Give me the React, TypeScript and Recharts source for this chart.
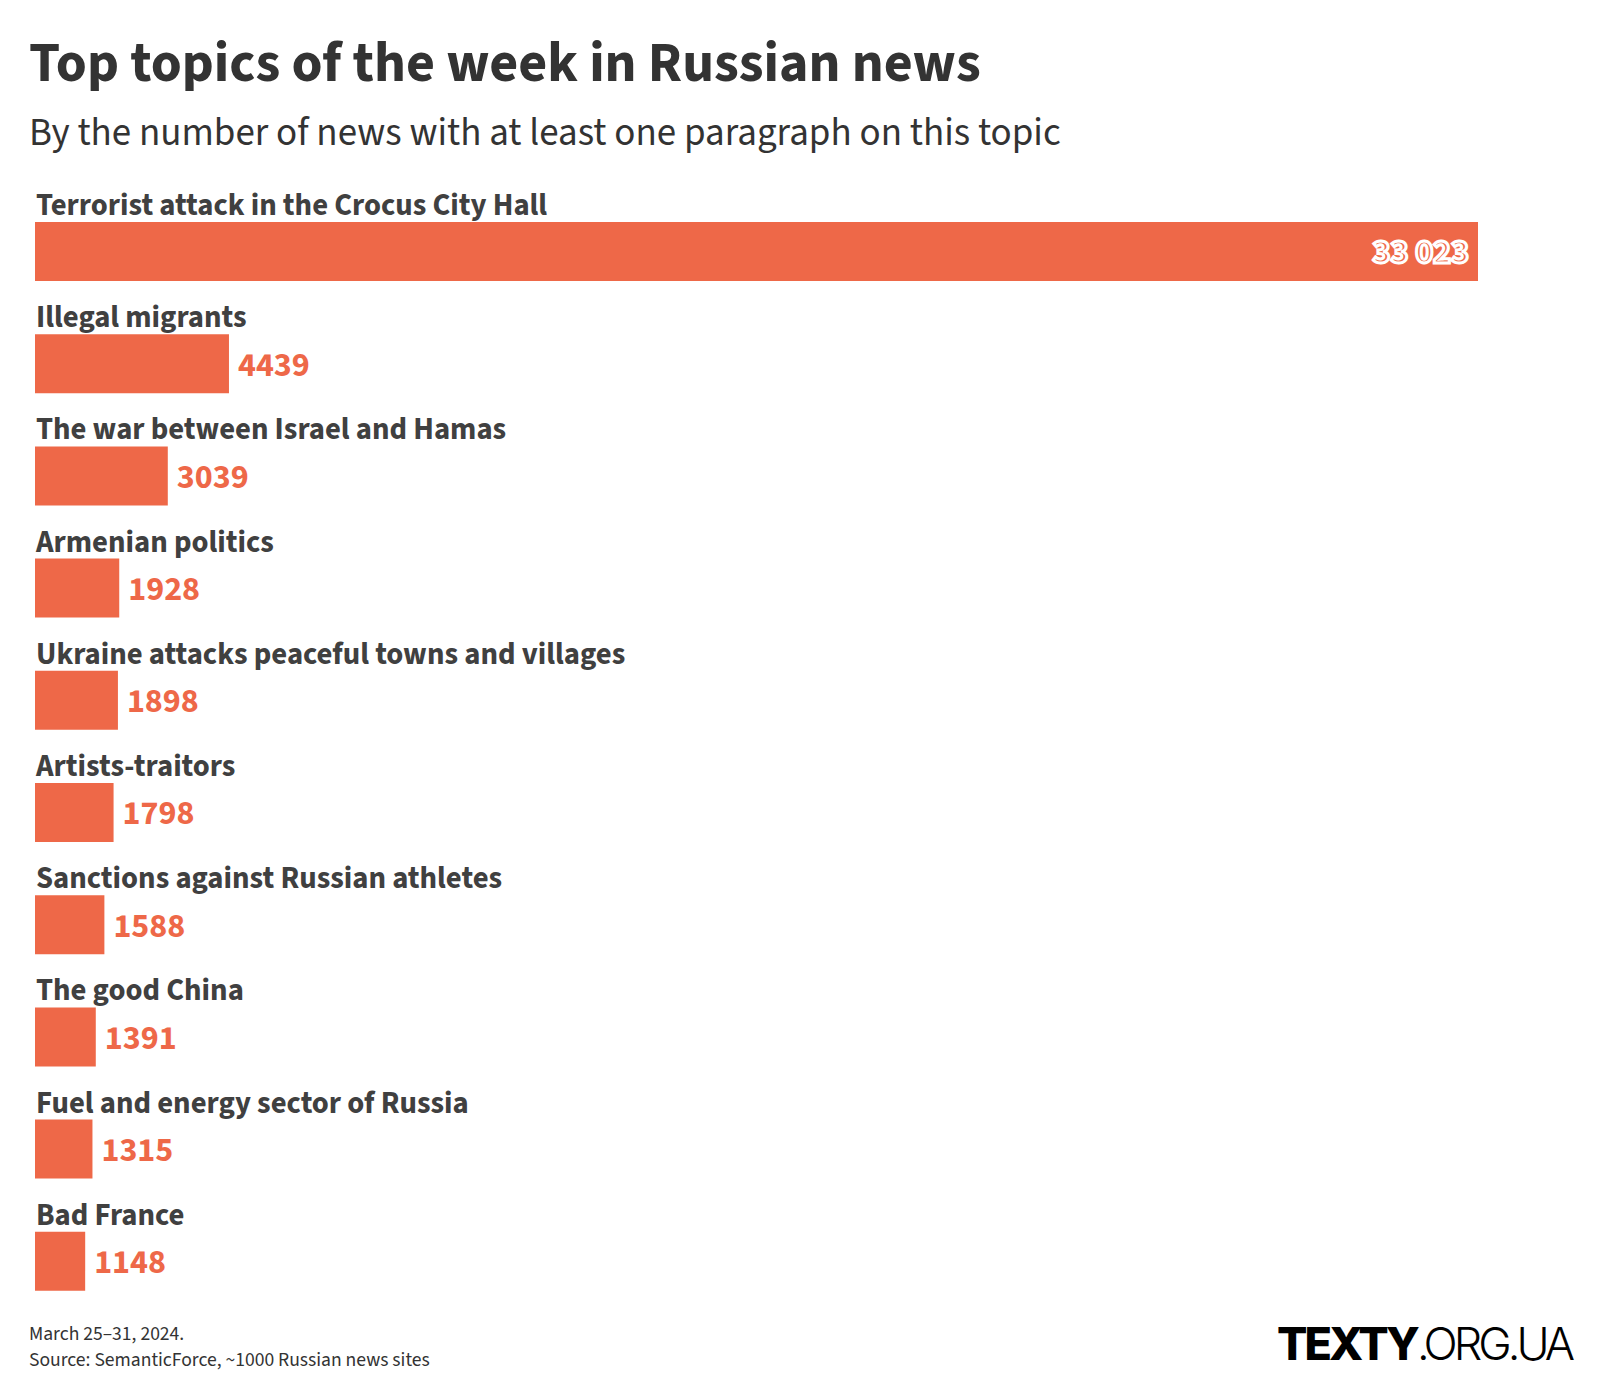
import React from "react";
import { BarChart, Bar, XAxis, YAxis, LabelList } from "recharts";

// Topics and their weekly counts, top to bottom
const topics = [
  "Terrorist attack in the Crocus City Hall",
  "Illegal migrants",
  "The war between Israel and Hamas",
  "Armenian politics",
  "Ukraine attacks peaceful towns and villages",
  "Artists-traitors",
  "Sanctions against Russian athletes",
  "The good China",
  "Fuel and energy sector of Russia",
  "Bad France",
];
const counts = [33023, 4439, 3039, 1928, 1898, 1798, 1588, 1391, 1315, 1148];

const data = topics.map((topic, i) => ({ topic, count: counts[i] }));

const BAR = "#EE6848";
const FONT = "'Source Sans 3', 'Source Sans Pro', Lato, sans-serif";

// space as thousands separator, like "33 023"
const fmt = (v: number) =>
  v >= 10000 ? String(v).replace(/\B(?=(\d{3})+(?!\d))/g, " ") : String(v);

// Topic name sits just above its bar
const TopicLabel = (props: any) => {
  const { x, y, value } = props;
  return (
    <text
      x={x + 1}
      y={y - 7}
      fill="#404040"
      fontFamily={FONT}
      fontWeight={700}
      fontSize={30.7}
    >
      {value}
    </text>
  );
};

// Count goes right of the bar, or inside it when the bar is long
const ValueLabel = (props: any) => {
  const { x, y, width, height, value } = props;
  const inside = width > 300;
  return (
    <text
      x={inside ? x + width - 9 : x + width + 9}
      y={y + height / 2}
      dy="0.35em"
      textAnchor={inside ? "end" : "start"}
      fill={BAR}
      stroke={inside ? "#fff" : "none"}
      strokeWidth={inside ? 3 : 0}
      fontFamily={FONT}
      fontWeight={700}
      fontSize={34}
    >
      {fmt(value)}
    </text>
  );
};

export default function App() {
  return (
    <div
      style={{
        position: "absolute",
        left: 0,
        top: 0,
        width: 1600,
        height: 1400,
        background: "#fff",
        fontFamily: FONT,
        color: "#333",
      }}
    >
      <div
        style={{
          position: "absolute",
          left: 29,
          top: 36,
          fontSize: 56,
          fontWeight: 700,
          lineHeight: 1,
          whiteSpace: "nowrap",
        }}
      >
        Top topics of the week in Russian news
      </div>
      <div
        style={{
          position: "absolute",
          left: 29,
          top: 114,
          fontSize: 39,
          lineHeight: 1,
          whiteSpace: "nowrap",
        }}
      >
        By the number of news with at least one paragraph on this topic
      </div>

      <div style={{ position: "absolute", left: 0, top: 0 }}>
        <BarChart
          width={1600}
          height={1400}
          data={data}
          layout="vertical"
          margin={{ top: 195, right: 122, bottom: 83, left: 35 }}
        >
          <XAxis type="number" domain={[0, 33023]} hide />
          <YAxis type="category" dataKey="topic" hide width={0} />
          <Bar dataKey="count" fill={BAR} barSize={59} isAnimationActive={false}>
            <LabelList dataKey="topic" content={TopicLabel} />
            <LabelList dataKey="count" content={ValueLabel} />
          </Bar>
        </BarChart>
      </div>

      <div
        style={{
          position: "absolute",
          left: 29,
          top: 1321,
          fontSize: 19.6,
          lineHeight: "26px",
          color: "#333",
          whiteSpace: "nowrap",
        }}
      >
        <div>March 25–31, 2024.</div>
        <div>Source: SemanticForce, ~1000 Russian news sites</div>
      </div>

      <div
        style={{
          position: "absolute",
          right: 29,
          top: 1321,
          fontFamily: "Inter, Roboto, sans-serif",
          fontSize: 45,
          lineHeight: 1,
          color: "#000",
          whiteSpace: "nowrap",
        }}
      >
        <span style={{ fontWeight: 800, letterSpacing: -3 }}>TEXTY</span>
        <span style={{ fontWeight: 300, letterSpacing: -4 }}>.ORG.UA</span>
      </div>
    </div>
  );
}
